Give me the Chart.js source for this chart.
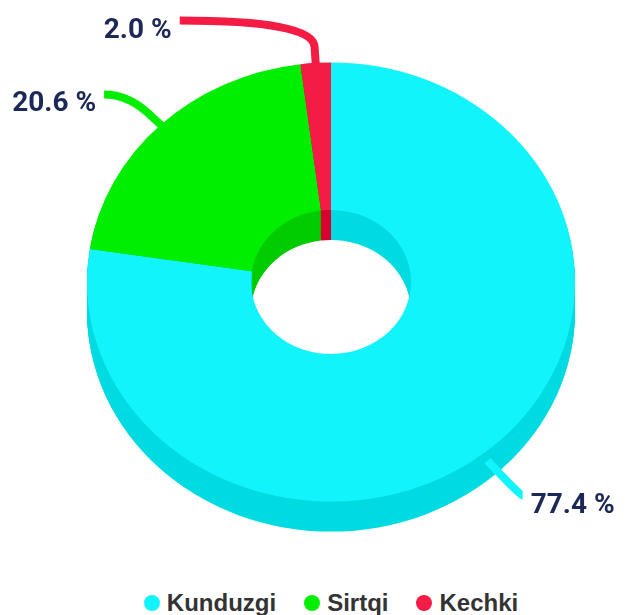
<!DOCTYPE html>
<html>
<head>
<meta charset="utf-8">
<script src="https://cdn.jsdelivr.net/npm/chart.js@4.4.0/dist/chart.umd.min.js"></script>
<style>
  body { margin: 0; background: #fff; }
  #wrap { position: relative; width: 625px; height: 615px; }
  #chart { position: absolute; left: 0; top: 0; }
  #legend {
    position: absolute; left: 60px; right: 23px; top: 589px;
    display: flex; justify-content: center; gap: 28px;
    font: bold 24px "Liberation Sans", Arial, sans-serif; color: #333;
  }
  .item { display: flex; align-items: center; }
  .dot { width: 16px; height: 16px; border-radius: 50%; margin-right: 7px; }
</style>
</head>
<body>
<div id="wrap">
  <canvas id="chart" width="625" height="580"></canvas>
  <div id="legend"></div>
</div>
<script>
// Data
const categories = ['Kunduzgi', 'Sirtqi', 'Kechki'];
const shares = [77.4, 20.6, 2.0];
const topColors = ['#12f4fb', '#00ee00', '#f41c44'];
const sideColors = ['#00dbe2', '#00cc00', '#d8002e'];

// 3D look
const TILT = 0.9;     // vertical squash of the ring
const DEPTH = 30;     // thickness of the ring in px
// labels sit on an ellipse round the centre
const LABEL_RX = 286;
const LABEL_RY = 308;
const LABEL_GAP = 8;
const LEAD = 18;

function squash(ctx, cy) {
    ctx.translate(0, cy);
    ctx.scale(1, TILT);
    ctx.translate(0, -cy);
}

function ringPath(ctx, a) {
    ctx.beginPath();
    ctx.arc(a.x, a.y, a.outerRadius, a.startAngle, a.endAngle);
    ctx.arc(a.x, a.y, a.innerRadius, a.endAngle, a.startAngle, true);
    ctx.closePath();
}

function project(a, r, ang, drop) {
    return { x: a.x + r * Math.cos(ang), y: a.y + r * Math.sin(ang) * TILT + drop };
}

const tiltPlugin = {
    id: 'tilt',
    beforeDatasetsDraw(chart) {
        const ctx = chart.ctx;
        const arcs = chart.getDatasetMeta(0).data;
        const cy = arcs[0].y;
        // extrude the ring downwards with darker copies
        for (let d = DEPTH; d > 0; d--) {
            ctx.save();
            ctx.translate(0, d);
            squash(ctx, cy);
            arcs.forEach((a, i) => {
                ringPath(ctx, a);
                ctx.fillStyle = sideColors[i];
                ctx.fill();
            });
            ctx.restore();
        }
        ctx.save();
        squash(ctx, cy);
    },
    afterDatasetsDraw(chart) {
        const ctx = chart.ctx;
        ctx.restore();
        const arcs = chart.getDatasetMeta(0).data;
        arcs.forEach((a, i) => {
            const mid = (a.startAngle + a.endAngle) / 2;
            const s = Math.sin(mid);
            const drop = s > 0 ? DEPTH / 2 : 0;
            const p0 = project(a, a.outerRadius - 4, mid, drop);
            const p1 = project(a, a.outerRadius + LEAD, mid, drop);
            const ey = a.y + (a.outerRadius + 47) * s * TILT + drop;
            const left = Math.cos(mid) < 0;
            const k = (ey - a.y + drop) / LABEL_RY;
            const dx = LABEL_RX * Math.sqrt(Math.max(1 - k * k, 0));
            const ex = a.x + (left ? -dx : dx);

            // control point: where the radial direction meets the label line
            const dirX = Math.cos(mid), dirY = Math.sin(mid) * TILT;
            let cx = p1.x + dirX * ((ey - p1.y) / dirY);
            cx = left ? Math.min(Math.max(cx, ex), p1.x) : Math.max(Math.min(cx, ex), p1.x);

            ctx.save();
            ctx.beginPath();
            ctx.moveTo(p0.x, p0.y);
            ctx.lineTo(p1.x, p1.y);
            ctx.quadraticCurveTo(cx, ey, ex, ey);
            ctx.strokeStyle = topColors[i];
            ctx.lineWidth = 8;
            ctx.lineJoin = 'round';
            ctx.stroke();

            ctx.font = 'bold 28px Roboto, sans-serif';
            ctx.fillStyle = '#1b2858';
            ctx.textAlign = left ? 'right' : 'left';
            ctx.textBaseline = 'middle';
            ctx.fillText(shares[i].toFixed(1) + ' %', ex + (left ? -LABEL_GAP : LABEL_GAP), ey + 10);
            ctx.restore();
        });
    }
};

new Chart(document.getElementById('chart'), {
    type: 'doughnut',
    data: {
        labels: categories,
        datasets: [{
            data: shares,
            backgroundColor: topColors,
            borderWidth: 0,
            hoverOffset: 0
        }]
    },
    options: {
        responsive: false,
        animation: false,
        events: [],
        radius: 244,
        cutout: '32.8%',
        layout: { padding: { left: 60, right: 23, top: 0, bottom: 16 } },
        plugins: {
            legend: { display: false },
            tooltip: { enabled: false }
        }
    },
    plugins: [tiltPlugin]
});

// Legend
const legend = document.getElementById('legend');
categories.forEach((name, i) => {
    legend.insertAdjacentHTML('beforeend',
        `<div class="item"><span class="dot" style="background:${topColors[i]}"></span>${name}</div>`);
});
</script>
</body>
</html>
